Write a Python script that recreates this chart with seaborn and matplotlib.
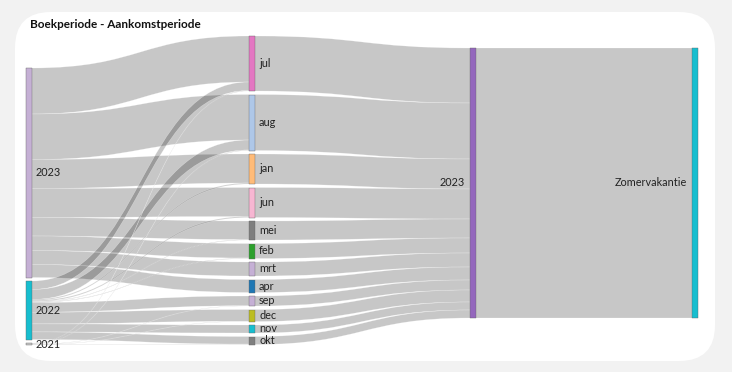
import matplotlib
matplotlib.use("Agg")
import matplotlib.pyplot as plt
from matplotlib.path import Path
from matplotlib.patches import PathPatch, Rectangle, FancyBboxPatch
import seaborn as sns

# ---------------- data ----------------
title = "Boekperiode - Aankomstperiode"
booking_years = ["2023", "2022", "2021"]
booking_months = ["jul", "aug", "jan", "jun", "mei", "feb", "mrt", "apr",
                  "sep", "dec", "nov", "okt"]
arrival_years = ["2023"]
arrival_periods = ["Zomervakantie"]

# flows booking year -> booking month (same order as booking_months)
from_2023 = [46, 45.5, 29, 29, 18.5, 14.5, 14, 13, 0, 0, 0, 0]
from_2022 = [8.5, 10, 1, 1, 0.5, 0.5, 0, 0, 9.7, 11.7, 8, 7.6]
from_2021 = [0.5, 0.5, 0, 0, 0, 0, 0, 0, 0.3, 0.3, 0, 0.4]
# flows booking month -> arrival year 2023
month_to_arrival = [55, 56, 30, 30, 19, 15, 14, 13, 10, 12, 8, 8]
# flow arrival year -> arrival period
year_to_period = [270]

# ---------------- style ----------------
sns.set_theme(style="white")
plt.rcParams["font.family"] = ["Lato", "DejaVu Sans"]
pal = sns.color_palette("tab20").as_hex()
year_colors = [pal[9], pal[18], pal[15]]
month_colors = [pal[12], pal[1], pal[3], pal[13], pal[14], pal[4], pal[9],
                pal[0], pal[9], pal[16], pal[18], pal[14]]
arrival_year_colors = [pal[8]]
period_colors = [pal[18]]

W, H = 732, 372
fig = plt.figure(figsize=(W / 100, H / 100), dpi=100)
fig.patch.set_facecolor("#f2f2f2")
ax = fig.add_axes([0, 0, 1, 1])
ax.set_xlim(0, W)
ax.set_ylim(H, 0)
ax.axis("off")

card = FancyBboxPatch((15, 12), 700, 349, boxstyle="round,pad=0,rounding_size=36",
                      facecolor="white", edgecolor="none", zorder=0)
ax.add_patch(card)

# layout
col_x = [26, 249, 470, 692]
col_top = [68, 36, 48, 48]
node_w = 6
gap = 3.5
scale = 1.0

columns = [booking_years, booking_months, arrival_years, arrival_periods]
col_colors = [year_colors, month_colors, arrival_year_colors, period_colors]
link_sets = [
    [from_2023, from_2022, from_2021],
    [[v] for v in month_to_arrival],
    [year_to_period],
]

# node sizes = max(in, out)
node_val = []
for c, names in enumerate(columns):
    vals = []
    for i in range(len(names)):
        out_v = sum(link_sets[c][i]) if c < len(link_sets) else 0
        in_v = sum(row[i] for row in link_sets[c - 1]) if c > 0 else 0
        vals.append(max(in_v, out_v))
    node_val.append(vals)

node_y = []
for c, vals in enumerate(node_val):
    y = col_top[c]
    ys = []
    for v in vals:
        ys.append(y)
        y += v * scale + gap
    node_y.append(ys)

# links
for c, links in enumerate(link_sets):
    src_off = list(node_y[c])
    tgt_off = list(node_y[c + 1])
    x0 = col_x[c] + node_w
    x1 = col_x[c + 1]
    xm = (x0 + x1) / 2
    for i, row in enumerate(links):
        for j, v in enumerate(row):
            if v <= 0:
                continue
            h = v * scale
            sy0, sy1 = src_off[i], src_off[i] + h
            ty0, ty1 = tgt_off[j], tgt_off[j] + h
            src_off[i] += h
            tgt_off[j] += h
            verts = [(x0, sy0), (xm, sy0), (xm, ty0), (x1, ty0),
                     (x1, ty1), (xm, ty1), (xm, sy1), (x0, sy1), (x0, sy0)]
            codes = [Path.MOVETO, Path.CURVE4, Path.CURVE4, Path.CURVE4,
                     Path.LINETO, Path.CURVE4, Path.CURVE4, Path.CURVE4,
                     Path.CLOSEPOLY]
            ax.add_patch(PathPatch(Path(verts, codes), facecolor=(0, 0, 0, 0.22),
                                   edgecolor=(1, 1, 1, 0.5), lw=0.3, zorder=1))

# nodes and labels
for c, names in enumerate(columns):
    for i, name in enumerate(names):
        y = node_y[c][i]
        h = max(node_val[c][i] * scale, 1)
        ax.add_patch(Rectangle((col_x[c], y), node_w, h, facecolor=col_colors[c][i],
                               edgecolor="#666666", lw=0.3, zorder=3))
        if c < 2:
            ax.text(col_x[c] + node_w + 4, y + h / 2, name, ha="left", va="center",
                    fontsize=7.8, color="#222222", zorder=4)
        else:
            ax.text(col_x[c] - 5, y + h / 2, name, ha="right", va="center",
                    fontsize=7.8, color="#222222", zorder=4)

ax.text(30, 25, title, ha="left", va="center", fontsize=8.5, fontweight="bold",
        color="#111111", zorder=4)

fig.savefig("out.png", dpi=100, facecolor=fig.get_facecolor())
